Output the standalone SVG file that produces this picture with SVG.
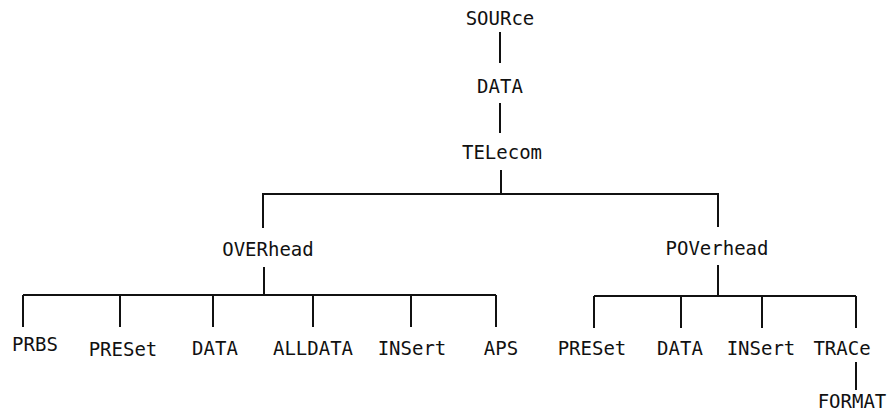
<svg xmlns="http://www.w3.org/2000/svg" width="892" height="417" viewBox="0 0 892 417">
<style>
text{font-family:"DejaVu Sans Mono","Liberation Mono",monospace;font-size:19px;fill:#111;text-anchor:middle}
.c line,.c polyline{stroke:#111;stroke-width:2;fill:none}
</style>
<rect width="892" height="417" fill="#fff"/>
<g class="c" id="connectors">
<line x1="500" y1="32" x2="500" y2="63"/>
<line x1="500" y1="103" x2="500" y2="133"/>
<line x1="501" y1="170" x2="501" y2="194"/>
<polyline points="263,228 263,194 718,194 718,227"/>
<line x1="264" y1="267" x2="264" y2="295"/>
<line x1="23" y1="295" x2="496" y2="295"/>
<line x1="23" y1="295" x2="23" y2="327"/>
<line x1="120" y1="295" x2="120" y2="327"/>
<line x1="213" y1="295" x2="213" y2="327"/>
<line x1="313" y1="295" x2="313" y2="327"/>
<line x1="411" y1="295" x2="411" y2="327"/>
<line x1="496" y1="295" x2="496" y2="327"/>
<line x1="718" y1="265" x2="718" y2="296"/>
<line x1="594" y1="296" x2="856" y2="296"/>
<line x1="594" y1="296" x2="594" y2="328"/>
<line x1="681" y1="296" x2="681" y2="328"/>
<line x1="762" y1="296" x2="762" y2="328"/>
<line x1="856" y1="296" x2="856" y2="328"/>
<line x1="856" y1="362" x2="856" y2="390"/>
</g>
<g id="source"><text x="500" y="25">SOURce</text></g>
<g id="data"><text x="500" y="93">DATA</text></g>
<g id="telecom"><text x="502" y="159">TELecom</text></g>
<g id="overhead"><text x="268" y="256">OVERhead</text></g>
<g id="poverhead"><text x="717" y="255">POVerhead</text></g>
<g id="prbs"><text x="35" y="351">PRBS</text></g>
<g id="preset1"><text x="123" y="356">PRESet</text></g>
<g id="data1"><text x="215" y="355">DATA</text></g>
<g id="alldata"><text x="313" y="355">ALLDATA</text></g>
<g id="insert1"><text x="412" y="355">INSert</text></g>
<g id="aps"><text x="501" y="355">APS</text></g>
<g id="preset2"><text x="592" y="355">PRESet</text></g>
<g id="data2"><text x="680" y="355">DATA</text></g>
<g id="insert2"><text x="761" y="355">INSert</text></g>
<g id="trace"><text x="842" y="355">TRACe</text></g>
<g id="format"><text x="852" y="408">FORMAT</text></g>
</svg>
